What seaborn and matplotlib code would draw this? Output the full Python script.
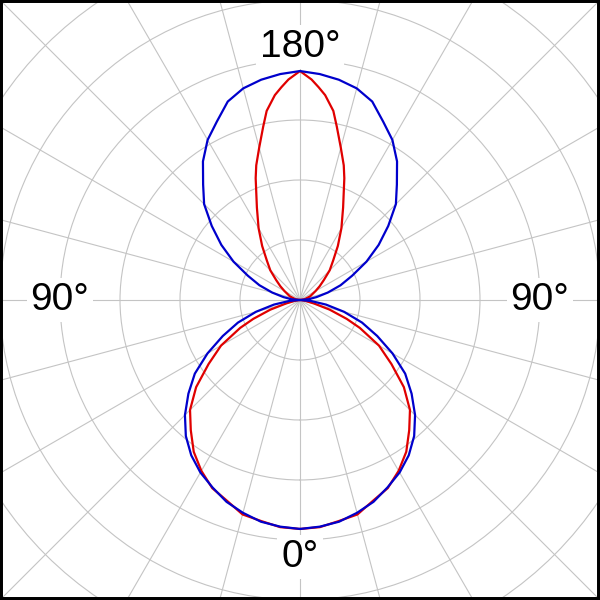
import numpy as np
import pandas as pd
import matplotlib
matplotlib.use("Agg")
import matplotlib.pyplot as plt
from matplotlib.patches import Rectangle
import seaborn as sns

# Angle (deg) measured from the 0° direction (bottom); pattern is mirrored left/right
blue_deg = [0, 5, 10, 15, 20, 25, 30, 35, 40, 45, 50, 55, 60, 65, 70, 75, 80, 85, 90,
            95, 100, 105, 110, 115, 120, 125, 130, 135, 140, 145, 150, 155, 160, 165,
            170, 175, 180]
blue_r = [0.954, 0.948, 0.938, 0.918, 0.895, 0.862, 0.830, 0.790, 0.740, 0.678, 0.607,
          0.535, 0.445, 0.355, 0.275, 0.190, 0.110, 0.045, 0.0,
          0.035, 0.070, 0.120, 0.180, 0.240, 0.320, 0.400, 0.480, 0.565, 0.628, 0.705,
          0.770, 0.820, 0.880, 0.913, 0.932, 0.945, 0.954]

red_deg = [0, 5, 10, 15, 20, 25, 30, 35, 40, 45, 50, 55, 60, 65, 68, 72, 76, 80, 85, 90,
           100, 110, 120, 125, 130, 135, 140, 145, 150, 155, 160, 162, 165, 168, 170,
           173, 175, 177, 180]
red_r = [0.954, 0.950, 0.935, 0.925, 0.890, 0.865, 0.822, 0.772, 0.708, 0.648, 0.565,
         0.465, 0.380, 0.275, 0.210, 0.130, 0.060, 0.025, 0.005, 0.0,
         0.020, 0.045, 0.075, 0.100, 0.130, 0.175, 0.215, 0.275, 0.345, 0.425, 0.540,
         0.590, 0.657, 0.738, 0.800, 0.860, 0.890, 0.920, 0.954]

# angle label text and where it sits (deg, radius)
label_text = ["0°", "90°", "90°", "180°"]
label_deg = [0, 90, 270, 180]
label_r = [1.07, 1.0, 1.0, 1.055]

grid_r = [0.25, 0.5, 0.75, 1.0, 1.25, 1.5, 1.75]
R_MAX = 1.77


def mirrored(deg, r):
    deg = np.asarray(deg, float)
    r = np.asarray(r, float)
    full_deg = np.concatenate([deg, 360 - deg[::-1]])
    full_r = np.concatenate([r, r[::-1]])
    return pd.DataFrame({"theta": np.deg2rad(full_deg), "r": full_r})


sns.set_style("white")
plt.rcParams["font.family"] = ["Liberation Sans", "DejaVu Sans"]

fig = plt.figure(figsize=(6, 6), dpi=100)
size = 2 * R_MAX * 240 / 600
off = (1 - size) / 2
ax = fig.add_axes([off, off, size, size], projection="polar")
ax.set_theta_zero_location("S")
ax.set_ylim(0, R_MAX)
ax.set_xticks(np.deg2rad(np.arange(0, 360, 15)))
ax.set_xticklabels([])
ax.set_yticks(grid_r)
ax.set_yticklabels([])
ax.grid(True, color="#c4c4c4", linewidth=0.8)
ax.spines["polar"].set_visible(False)
ax.set_facecolor("white")

sns.lineplot(data=mirrored(red_deg, red_r), x="theta", y="r", sort=False,
             color="#e00000", linewidth=1.6, ax=ax, zorder=3)
sns.lineplot(data=mirrored(blue_deg, blue_r), x="theta", y="r", sort=False,
             color="#0000cc", linewidth=1.6, ax=ax, zorder=4)
ax.set_xlabel("")
ax.set_ylabel("")

for txt, d, r in zip(label_text, label_deg, label_r):
    ax.text(np.deg2rad(d), r, txt, fontsize=28, color="black", ha="center",
            va="center", zorder=5,
            bbox=dict(boxstyle="square,pad=0.1", facecolor="white", edgecolor="none"))

fig.patches.append(Rectangle((0, 0), 1, 1, transform=fig.transFigure, fill=False,
                             edgecolor="black", linewidth=4.3, zorder=10))

fig.savefig("out.png", dpi=100)
plt.close(fig)
